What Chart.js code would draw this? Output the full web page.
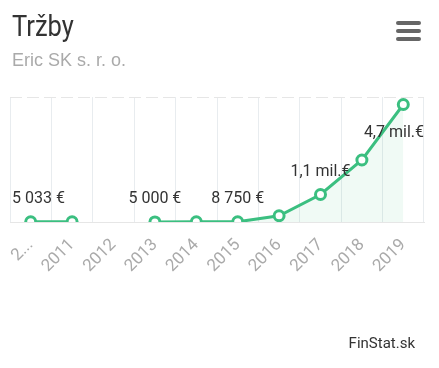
<!DOCTYPE html>
<html>
<head>
<meta charset="utf-8">
<script src="https://cdn.jsdelivr.net/npm/chart.js@4/dist/chart.umd.min.js"></script>
<style>
    html, body { margin: 0; padding: 0; background: #fff; }
    #wrap { position: relative; width: 439px; height: 368px; overflow: hidden; }
    #chart { position: absolute; left: 0; top: 0; }
    .title { position: absolute; left: 12px; top: 8px; font: 30px Roboto, sans-serif; color: #333; transform: scaleX(0.85); transform-origin: left top; }
    .subtitle { position: absolute; left: 12px; top: 50px; font: 18px "Liberation Sans", Arial, sans-serif; color: #aaa; }
    .menu { position: absolute; left: 396px; top: 21px; width: 25px; }
    .menu div { height: 4px; background: #666; border-radius: 2px; margin-bottom: 4px; }
    .credits { position: absolute; right: 24px; top: 334px; font: 15px Roboto, sans-serif; color: #333; }
</style>
</head>
<body>
<div id="wrap">
    <canvas id="chart" width="439" height="368"></canvas>
    <div class="title">Tržby</div>
    <div class="subtitle">Eric SK s. r. o.</div>
    <div class="menu"><div></div><div></div><div></div></div>
    <div class="credits">FinStat.sk</div>
</div>
<script>
(function () {
    const years = ['2010', '2011', '2012', '2013', '2014', '2015', '2016', '2017', '2018', '2019'];
    const revenue = [5033, 5100, null, 5000, 6000, 8750, 250000, 1100000, 2480000, 4700000];
    const labelled = [0, 3, 5, 7, 9];

    const green = '#3bbf80';

    function formatEur(v) {
        if (v >= 1000000) {
            return (v / 1000000).toFixed(1).replace('.', ',') + ' mil.€';
        }
        return Math.round(v).toString().replace(/\B(?=(\d{3})+(?!\d))/g, '\u00a0') + '\u00a0€';
    }

    // data labels above points, kept inside the plot like the original
    const valueLabels = {
        id: 'valueLabels',
        afterDatasetsDraw(chart) {
            const ctx = chart.ctx;
            const area = chart.chartArea;
            const meta = chart.getDatasetMeta(0);
            ctx.save();
            ctx.font = '16px Roboto, sans-serif';
            ctx.fillStyle = '#333';
            ctx.textBaseline = 'middle';
            ctx.textAlign = 'left';
            labelled.forEach(function (i) {
                const pt = meta.data[i];
                if (!pt || revenue[i] == null) return;
                const text = formatEur(revenue[i]);
                const w = ctx.measureText(text).width;
                let x = pt.x - w / 2;
                if (x < area.left + 2) x = area.left + 2;
                if (x + w > area.right) x = area.right - w;
                let y = pt.y - 23;
                if (y - 8 < area.top) y = pt.y + 28;
                ctx.fillText(text, x, y);
            });
            ctx.restore();
        }
    };

    var ctx = document.getElementById('chart');
    var myChart = new Chart(ctx, {
        type: 'line',
        data: {
            labels: years,
            datasets: [{
                label: 'Tržby',
                data: revenue,
                borderColor: green,
                borderWidth: 3,
                backgroundColor: 'rgba(59, 191, 128, 0.08)',
                fill: 'origin',
                spanGaps: false,
                tension: 0,
                pointRadius: 5,
                pointBorderWidth: 3,
                pointBackgroundColor: '#fff',
                pointBorderColor: green
            }]
        },
        options: {
            responsive: false,
            animation: false,
            layout: {
                padding: { left: 10, right: 15, top: 97, bottom: 96 }
            },
            plugins: {
                legend: { display: false },
                tooltip: { enabled: false }
            },
            scales: {
                x: {
                    offset: true,
                    grid: {
                        offset: true,
                        color: '#e8ecef',
                        lineWidth: 1,
                        drawTicks: false
                    },
                    border: { display: true, color: '#e6e6e6' },
                    ticks: {
                        autoSkip: false,
                        maxRotation: 45,
                        minRotation: 45,
                        padding: 13,
                        color: '#aaa',
                        font: { family: 'Roboto', size: 17 },
                        callback: function (value, index) {
                            const lab = this.getLabelForValue(value);
                            return index === 0 ? lab.charAt(0) + '...' : lab;
                        }
                    },
                    afterFit: function (scale) { scale.height = 50; }
                },
                y: {
                    min: 0,
                    max: 5000000,
                    ticks: { display: false, stepSize: 5000000 },
                    grid: { color: '#e6e6e6', drawTicks: false },
                    border: { display: false, dash: [12, 5] },
                    afterFit: function (scale) { scale.width = 0; }
                }
            }
        },
        plugins: [valueLabels]
    });
})();
</script>
</body>
</html>
